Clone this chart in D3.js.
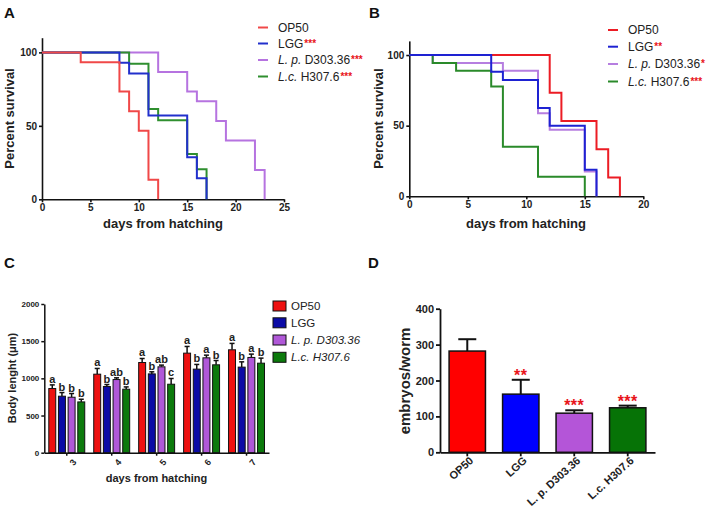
<!DOCTYPE html>
<html><head><meta charset="utf-8">
<script src="https://cdn.jsdelivr.net/npm/d3@7"></script>
<style>
body{margin:0;background:#fff}
text{font-family:"Liberation Sans",Arial,Helvetica,sans-serif}
</style>
</head><body>
<svg id="c" width="707" height="513"></svg>
<script>
// ---------------- DATA ----------------
const seriesNames = ["OP50", "LGG", "L. p. D303.36", "L.c. H307.6"];

// Panel A: survival (days, percent)
const aOP50Days = [0, 4, 8, 9, 10, 11, 12];
const aOP50Surv = [100, 93.3, 73.3, 60, 46.7, 13.3, 0];
const aLGGDays = [0, 8, 9, 11, 15, 16, 17];
const aLGGSurv = [100, 92.9, 85.7, 57.1, 28.6, 14.3, 0];
const aLpDays = [0, 12, 15, 16, 18, 19, 22, 23];
const aLpSurv = [100, 86.7, 73.3, 66.7, 53.3, 40, 20, 0];
const aLcDays = [0, 9, 11, 12, 15, 16, 17];
const aLcSurv = [100, 92.3, 61.5, 53.8, 30.8, 20.5, 0];
const aStars = ["", "***", "***", "***"];

// Panel B: survival
const bOP50Days = [0, 12, 13, 16, 17, 18];
const bOP50Surv = [100, 73.3, 53.3, 33.3, 13.3, 0];
const bLGGDays = [0, 7, 8, 11, 12, 15, 16];
const bLGGSurv = [100, 88.2, 82.4, 62.5, 50, 18.8, 0];
const bLpDays = [0, 2, 8, 11, 12, 15, 16];
const bLpSurv = [100, 94.4, 88.9, 58.8, 47.1, 17.6, 0];
const bLcDays = [0, 2, 4, 7, 8, 11, 15];
const bLcSurv = [100, 94.4, 88.9, 77.8, 35, 13.9, 0];
const bStars = ["", "**", "*", "***"];

const survTicksX_A = [0, 5, 10, 15, 20, 25];
const survTicksX_B = [0, 5, 10, 15, 20];
const survTicksY = [0, 50, 100];

// Panel C: body length
const cDays = ["3", "4", "5", "6", "7"];
const cOP50 = [863, 1056, 1213, 1339, 1384];
const cOP50Err = [49, 77, 54, 90, 86];
const cLGG = [760, 890, 1060, 1124, 1151];
const cLGGErr = [49, 27, 28, 63, 71];
const cLp = [746, 984, 1155, 1276, 1281];
const cLpErr = [50, 23, 23, 36, 45];
const cLc = [683, 854, 921, 1182, 1204];
const cLcErr = [36, 31, 77, 58, 68];
const cLetters = [
  ["a", "b", "b", "b"],
  ["a", "b", "ab", "b"],
  ["a", "b", "ab", "c"],
  ["a", "b", "a", "b"],
  ["a", "b", "a", "b"]
];
const cTicksY = [0, 500, 1000, 1500, 2000];

// Panel D: embryos/worm
const dMeans = [282, 162, 109, 124];
const dErr = [33, 40, 8, 6];
const dStars = ["", "**", "***", "***"];
const dTicksY = [0, 100, 200, 300, 400];

// ---------------- DRAWING ----------------
const svg = d3.select("#c");
const FONT = '"Liberation Sans",Arial,Helvetica,sans-serif';

function styleAxis(g, sw, fs) {
  g.selectAll("path.domain").attr("stroke", "#111").attr("stroke-width", sw);
  g.selectAll(".tick line").attr("stroke", "#111").attr("stroke-width", sw);
  g.selectAll(".tick text").attr("font-family", FONT).attr("font-weight", "bold")
    .attr("font-size", fs).attr("fill", "#222");
}

function panelLetter(txt, x, y) {
  svg.append("text").attr("x", x).attr("y", y).attr("font-size", 15)
    .attr("font-weight", "bold").attr("fill", "#111").text(txt);
}

function legendLabel(sel, i, stars) {
  if (i === 2) {
    sel.append("tspan").attr("font-style", "italic").text("L. p.");
    sel.append("tspan").text(" D303.36");
  } else if (i === 3) {
    sel.append("tspan").attr("font-style", "italic").text("L.c.");
    sel.append("tspan").text(" H307.6");
  } else {
    sel.append("tspan").text(seriesNames[i]);
  }
  if (stars && stars[i]) {
    sel.append("tspan").attr("fill", "#e8141a").attr("font-weight", "bold")
      .attr("font-size", 10).attr("dx", 1).attr("dy", -1).text(stars[i]);
  }
}

function survivalPanel(cfg) {
  const x = d3.scaleLinear().domain(cfg.xDomain).range(cfg.xRange);
  const y = d3.scaleLinear().domain([0, 110]).range(cfg.yRange);
  const gx = svg.append("g").attr("transform", `translate(0,${y(0)})`)
    .call(d3.axisBottom(x).tickValues(cfg.xTicks).tickSize(3).tickSizeOuter(0).tickPadding(2));
  styleAxis(gx, 1.6, 10);
  const gy = svg.append("g").attr("transform", `translate(${x(0)},0)`)
    .call(d3.axisLeft(y).tickValues(survTicksY).tickSize(3).tickSizeOuter(0).tickPadding(2));
  styleAxis(gy, 1.6, 10);

  const line = d3.line().x(d => x(d[0])).y(d => y(d[1])).curve(d3.curveStepAfter);
  cfg.order.forEach(i => {
    const s = cfg.series[i];
    const pts = s.days.map((d, k) => [d, s.surv[k]]);
    svg.append("path").attr("d", line(pts)).attr("fill", "none")
      .attr("stroke", cfg.colors[i]).attr("stroke-width", 2);
  });

  svg.append("text").attr("transform", `translate(${cfg.yLabelX},${(cfg.yRange[0] + cfg.yRange[1]) / 2}) rotate(-90)`)
    .attr("text-anchor", "middle").attr("font-size", 13).attr("font-weight", "bold").attr("fill", "#222")
    .text("Percent survival");
  svg.append("text").attr("x", (cfg.xLabelCX)).attr("y", cfg.xLabelY)
    .attr("text-anchor", "middle").attr("font-size", 13).attr("font-weight", "bold").attr("fill", "#222")
    .text("days from hatching");

  // legend
  seriesNames.forEach((n, i) => {
    const cy = cfg.legY[i];
    svg.append("line").attr("x1", cfg.legX).attr("x2", cfg.legX + 10).attr("y1", cy).attr("y2", cy)
      .attr("stroke", cfg.colors[i]).attr("stroke-width", 2);
    const t = svg.append("text").attr("x", cfg.legX + 20).attr("y", cy).attr("dy", "0.36em")
      .attr("font-size", 12).attr("fill", "#222");
    legendLabel(t, i, cfg.stars);
  });
}

// Panel A
survivalPanel({
  xDomain: [0, 25], xRange: [42, 284], yRange: [199.3, 37.7], xTicks: survTicksX_A,
  series: [
    { days: aOP50Days, surv: aOP50Surv }, { days: aLGGDays, surv: aLGGSurv },
    { days: aLpDays, surv: aLpSurv }, { days: aLcDays, surv: aLcSurv }
  ],
  colors: ["#f04848", "#2230cc", "#b673e0", "#2f8f2f"],
  order: [2, 3, 1, 0],
  stars: aStars,
  yLabelX: 14, xLabelCX: 163, xLabelY: 228,
  legX: 258, legY: [27.5, 43.5, 60, 76.5]
});
panelLetter("A", 4, 18);

// Panel B
survivalPanel({
  xDomain: [0, 20], xRange: [409.3, 643.3], yRange: [196.3, 40.9], xTicks: survTicksX_B,
  series: [
    { days: bOP50Days, surv: bOP50Surv }, { days: bLGGDays, surv: bLGGSurv },
    { days: bLpDays, surv: bLpSurv }, { days: bLcDays, surv: bLcSurv }
  ],
  colors: ["#ec1c24", "#1e22d2", "#b67ee0", "#2a8a2a"],
  order: [0, 2, 3, 1],
  stars: bStars,
  yLabelX: 383, xLabelCX: 526, xLabelY: 228,
  legX: 608, legY: [30, 46.7, 64, 81.5]
});
panelLetter("B", 369, 18);

// Panel C
(function () {
  const colors = ["#ee1111", "#0b0ba6", "#b058d8", "#0c7a0c"];
  const vals = [cOP50, cLGG, cLp, cLc];
  const errs = [cOP50Err, cLGGErr, cLpErr, cLcErr];
  const x0 = d3.scaleBand().domain(cDays).range([44.3, 269]).paddingInner(0.2).paddingOuter(0.1);
  const x1 = d3.scaleBand().domain(d3.range(4)).range([0, x0.bandwidth()]).paddingInner(0.28);
  const y = d3.scaleLinear().domain([0, 2000]).range([452.7, 304]);

  cDays.forEach((d, di) => {
    for (let s = 0; s < 4; s++) {
      const bx = x0(d) + x1(s), bw = x1.bandwidth();
      const v = vals[s][di], e = errs[s][di];
      const cx = bx + bw / 2;
      svg.append("line").attr("x1", cx).attr("x2", cx).attr("y1", y(v)).attr("y2", y(v + e))
        .attr("stroke", "#111").attr("stroke-width", 1.5);
      svg.append("line").attr("x1", cx - 2.5).attr("x2", cx + 2.5).attr("y1", y(v + e)).attr("y2", y(v + e))
        .attr("stroke", "#111").attr("stroke-width", 1.5);
      svg.append("rect").attr("x", bx).attr("y", y(v)).attr("width", bw).attr("height", y(0) - y(v))
        .attr("fill", colors[s]).attr("stroke", "#111").attr("stroke-width", 1);
      svg.append("text").attr("x", cx).attr("y", y(v + e) - 2).attr("text-anchor", "middle")
        .attr("font-size", 11).attr("font-weight", "bold").attr("fill", "#222")
        .text(cLetters[di][s]);
    }
  });

  const gx = svg.append("g").attr("transform", `translate(0,${y(0)})`)
    .call(d3.axisBottom(x0).tickSize(3).tickSizeOuter(0).tickPadding(3));
  styleAxis(gx, 1.5, 9);
  gx.selectAll(".tick text").attr("transform", "rotate(-50)").attr("text-anchor", "end")
    .attr("dx", "-0.1em").attr("dy", "0.9em");
  const gy = svg.append("g").attr("transform", `translate(44.3,0)`)
    .call(d3.axisLeft(y).tickValues(cTicksY).tickFormat(d3.format("d")).tickSize(3).tickSizeOuter(0).tickPadding(2));
  styleAxis(gy, 1.5, 8);

  svg.append("text").attr("transform", `translate(16,378) rotate(-90)`).attr("text-anchor", "middle")
    .attr("font-size", 11).attr("font-weight", "bold").attr("fill", "#222").text("Body lenght (\u03bcm)");
  svg.append("text").attr("x", 156.5).attr("y", 482).attr("text-anchor", "middle")
    .attr("font-size", 11).attr("font-weight", "bold").attr("fill", "#222").text("days from hatching");

  const legY = [306, 322.8, 340, 357.3];
  seriesNames.forEach((n, i) => {
    svg.append("rect").attr("x", 273).attr("y", legY[i] - 5).attr("width", 13).attr("height", 10)
      .attr("fill", colors[i]).attr("stroke", "#111").attr("stroke-width", 1);
    const t = svg.append("text").attr("x", 291).attr("y", legY[i]).attr("dy", "0.36em")
      .attr("font-size", 11.5).attr("fill", "#222");
    if (i >= 2) t.attr("font-style", "italic");
    t.text(n);
  });
})();
panelLetter("C", 4, 268);

// Panel D
(function () {
  const colors = ["#ff0000", "#0000ff", "#b455d8", "#067306"];
  const x = d3.scaleBand().domain(seriesNames).range([440, 655]).paddingInner(0.32).paddingOuter(0.17);
  const y = d3.scaleLinear().domain([0, 400]).range([452.3, 308.7]);

  seriesNames.forEach((n, i) => {
    const bx = x(n), bw = x.bandwidth(), cx = bx + bw / 2;
    const v = dMeans[i], e = dErr[i];
    svg.append("line").attr("x1", cx).attr("x2", cx).attr("y1", y(v)).attr("y2", y(v + e))
      .attr("stroke", "#111").attr("stroke-width", 2);
    svg.append("line").attr("x1", cx - 9).attr("x2", cx + 9).attr("y1", y(v + e)).attr("y2", y(v + e))
      .attr("stroke", "#111").attr("stroke-width", 2);
    svg.append("rect").attr("x", bx).attr("y", y(v)).attr("width", bw).attr("height", y(0) - y(v))
      .attr("fill", colors[i]).attr("stroke", "#111").attr("stroke-width", 1.5);
    if (dStars[i]) {
      svg.append("text").attr("x", cx).attr("y", y(v + e) + 1).attr("text-anchor", "middle")
        .attr("font-size", 16).attr("font-weight", "bold").attr("letter-spacing", 0.5)
        .attr("fill", "#e8141a").text(dStars[i]);
    }
  });

  const gx = svg.append("g").attr("transform", `translate(0,${y(0)})`)
    .call(d3.axisBottom(x).tickSize(4).tickSizeOuter(0).tickPadding(2));
  styleAxis(gx, 1.8, 11);
  gx.selectAll(".tick text").attr("transform", "rotate(-42)").attr("text-anchor", "end")
    .attr("dx", "-0.1em").attr("dy", "0.5em");
  const gy = svg.append("g").attr("transform", `translate(440,0)`)
    .call(d3.axisLeft(y).tickValues(dTicksY).tickSize(4).tickSizeOuter(0).tickPadding(2));
  styleAxis(gy, 1.8, 11);

  svg.append("text").attr("transform", `translate(410,381) rotate(-90)`).attr("text-anchor", "middle")
    .attr("font-size", 15).attr("font-weight", "bold").attr("fill", "#222").text("embryos/worm");
})();
panelLetter("D", 368, 268);
</script>
</body></html>
